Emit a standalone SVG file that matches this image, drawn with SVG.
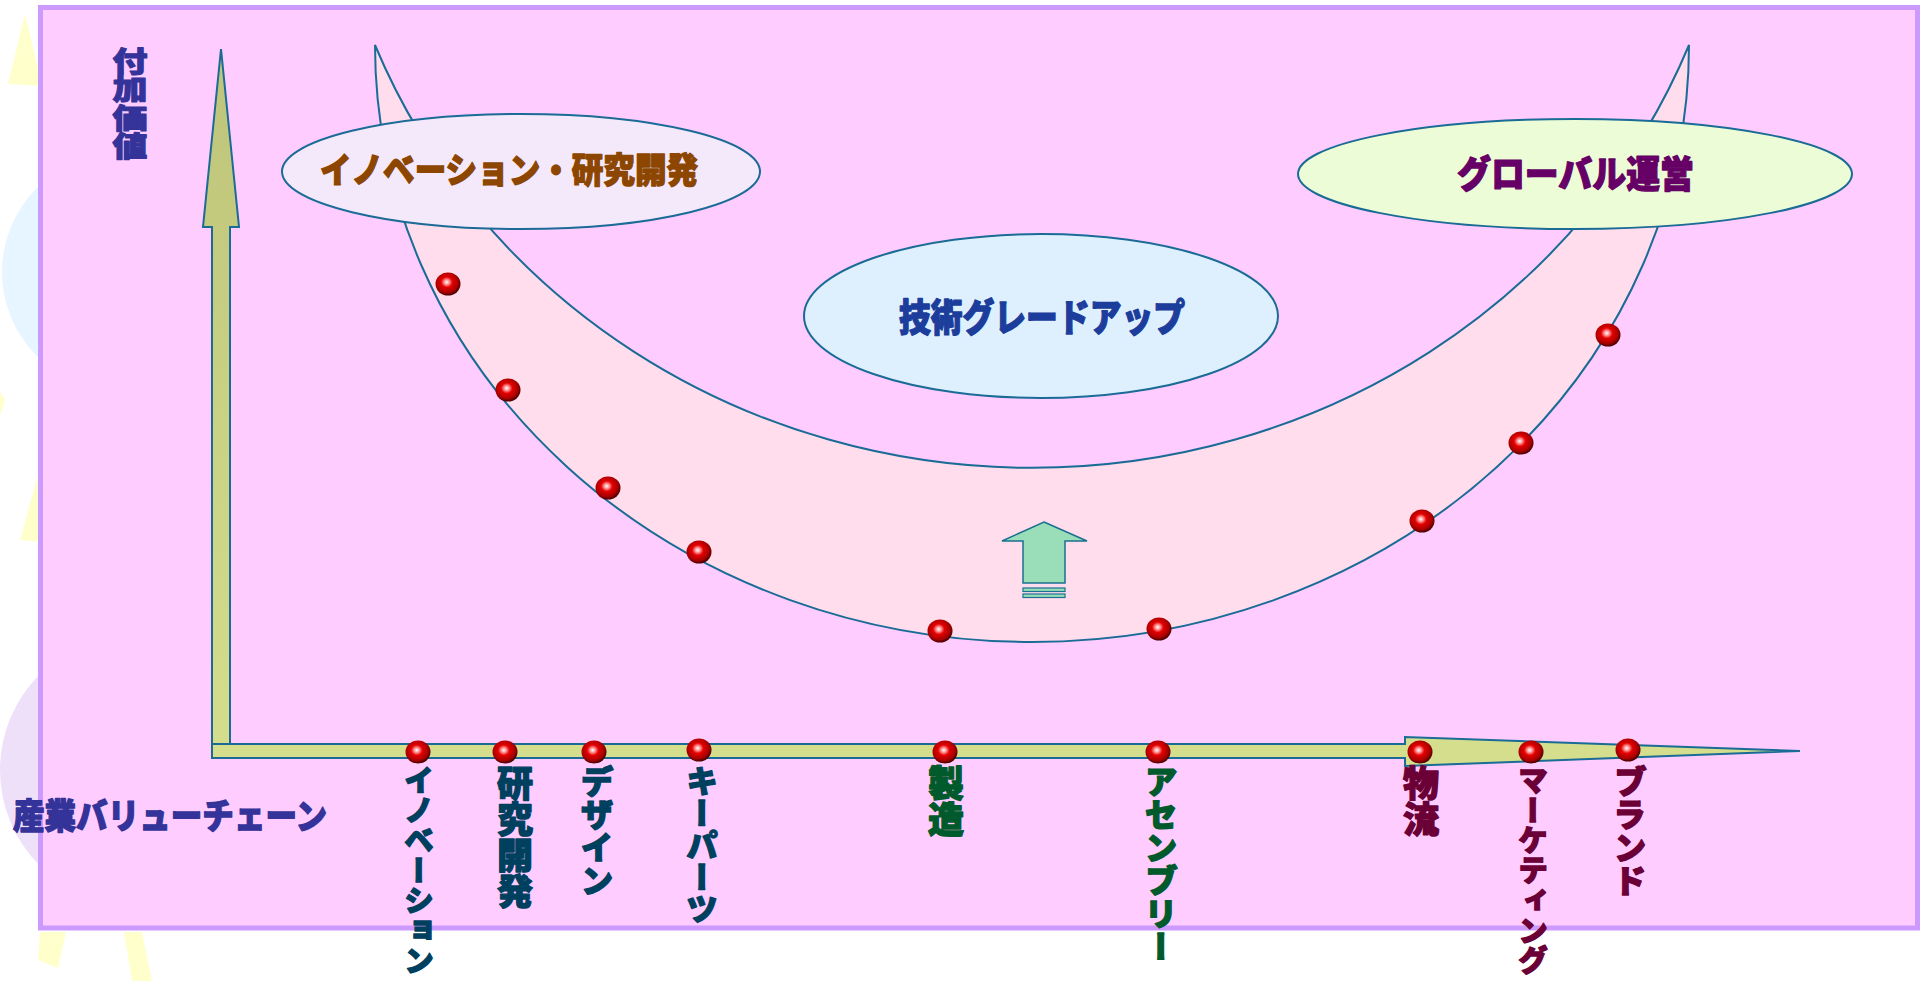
<svg xmlns="http://www.w3.org/2000/svg" width="1924" height="981" viewBox="0 0 1924 981">
<style>
.jp{font-family:"Noto Sans CJK JP","Noto Sans CJK SC",sans-serif;font-weight:900;stroke-width:1.3;stroke-linejoin:round}
.vt{writing-mode:vertical-rl}
.teal{fill:#00405F;stroke:#00405F}
.green{fill:#005A2C;stroke:#005A2C}
.maroon{fill:#6A0036;stroke:#6A0036}
.navy{fill:#333399;stroke:#333399}
.edge{stroke:#1A6B96;stroke-width:2}
</style>
<defs>
<radialGradient id="ball" cx="0.45" cy="0.42" r="0.6">
<stop offset="0" stop-color="#FFFFFF"/>
<stop offset="0.18" stop-color="#FF9090"/>
<stop offset="0.38" stop-color="#E40000"/>
<stop offset="0.75" stop-color="#A80000"/>
<stop offset="1" stop-color="#3A0000"/>
</radialGradient>
<linearGradient id="vshaft" x1="0" y1="0" x2="0" y2="1">
<stop offset="0" stop-color="#BEC47A"/>
<stop offset="1" stop-color="#D4DE8C"/>
</linearGradient>
<symbol id="b" overflow="visible"><ellipse cx="0" cy="0" rx="12.5" ry="11.5" fill="url(#ball)"/></symbol>
</defs>

<!-- background decorations -->
<g id="decor">
<rect width="1924" height="981" fill="#FFFFFF"/>
<circle cx="120" cy="272" r="118" fill="#E6F5FF"/>
<circle cx="140" cy="265" r="80" fill="#EEF8FF"/>
<circle cx="135" cy="770" r="135" fill="#EFE0FA"/>
<circle cx="150" cy="760" r="95" fill="#F5EAFC"/>
<polygon points="8,84 25,14 42,86" fill="#FFFFCC"/>
<polygon points="20,540 38,475 42,542" fill="#FFFFCC"/>
<polygon points="0,392 5,400 0,415" fill="#FFFFCC"/>
<polygon points="38,960 40,932 66,932 58,968" fill="#FFFFCC"/>
<polygon points="124,932 142,932 152,981 132,981" fill="#FFFFCC"/>
</g>

<g id="frame">
<rect x="40.5" y="7.5" width="1877" height="920.5" fill="#FFCCFF" stroke="#CC99FF" stroke-width="5"/>
</g>

<g id="crescent">
<path d="M375,45 A657,597 0 0 0 1689,45 A706,667 0 0 1 375,45 Z" fill="#FFDDEC" class="edge"/>
</g>

<g id="node-innovation">
<ellipse cx="521" cy="171.5" rx="239" ry="57.5" fill="#F4E8FB" class="edge"/>
<text class="jp" x="320" y="167" font-size="35" fill="#8C4600" stroke="#8C4600" dominant-baseline="central" textLength="378" lengthAdjust="spacingAndGlyphs">イノベーション・研究開発</text>
</g>

<g id="node-global">
<ellipse cx="1575" cy="174" rx="277" ry="55" fill="#ECFCD6" class="edge"/>
<text class="jp" x="1457" y="171.5" font-size="37" fill="#660066" stroke="#660066" dominant-baseline="central" textLength="237" lengthAdjust="spacingAndGlyphs">グローバル運営</text>
</g>

<g id="node-tech">
<ellipse cx="1041" cy="316" rx="237" ry="82" fill="#DEF0FE" class="edge"/>
<text class="jp" x="899" y="314.5" font-size="38" fill="#1C3D9B" stroke="#1C3D9B" dominant-baseline="central" textLength="286" lengthAdjust="spacingAndGlyphs">技術グレードアップ</text>
</g>

<g id="up-arrow">
<polygon points="1044,522 1087,541 1065,541 1065,583 1023,583 1023,541 1002,541" fill="#99DDB9" stroke="#1A7090" stroke-width="1.5"/>
<rect x="1023" y="588" width="42" height="3.5" fill="#99DDB9" stroke="#1A7090" stroke-width="1.2"/>
<rect x="1023" y="594" width="42" height="3.5" fill="#99DDB9" stroke="#1A7090" stroke-width="1.2"/>
</g>

<g id="curve-balls">
<use href="#b" x="448" y="284"/>
<use href="#b" x="508" y="390"/>
<use href="#b" x="608" y="488"/>
<use href="#b" x="699" y="552"/>
<use href="#b" x="940" y="631"/>
<use href="#b" x="1159" y="629"/>
<use href="#b" x="1422" y="521"/>
<use href="#b" x="1521" y="443"/>
<use href="#b" x="1608" y="335"/>
</g>

<g id="connectors">
<polygon id="y-axis" points="221,49 239,227 230,227 230,758 212,758 212,227 203,227" fill="url(#vshaft)" class="edge"/>
<polygon id="x-axis" points="212,744 1405,744 1405,737 1800,751 1405,766 1405,758 212,758" fill="#D4DE8C" class="edge"/>
</g>

<g id="axis-titles">
<text class="jp navy vt" font-size="35" transform="translate(130,47) scale(1,0.81)" x="0" y="0">付加価値</text>
<text class="jp navy" x="13" y="813" font-size="35" dominant-baseline="central" textLength="314" lengthAdjust="spacingAndGlyphs">産業バリューチェーン</text>
</g>

<g id="axis-balls">
<use href="#b" x="418" y="752"/>
<use href="#b" x="505" y="752"/>
<use href="#b" x="594" y="752"/>
<use href="#b" x="699" y="750"/>
<use href="#b" x="945" y="752"/>
<use href="#b" x="1158" y="752"/>
<use href="#b" x="1420" y="752"/>
<use href="#b" x="1531" y="752"/>
<use href="#b" x="1628" y="750"/>
</g>

<g id="stage-labels">
<text id="l-innovation" class="jp vt teal" x="419" y="765" font-size="30">イノベーション</text>
<text id="l-rd" class="jp vt teal" x="515" y="765" font-size="36">研究開発</text>
<text id="l-design" class="jp vt teal" x="597" y="765" font-size="33">デザイン</text>
<text id="l-keyparts" class="jp vt teal" x="702" y="765" font-size="32">キーパーツ</text>
<text id="l-mfg" class="jp vt green" x="946" y="765" font-size="36">製造</text>
<text id="l-assembly" class="jp vt green" x="1161" y="765" font-size="33">アセンブリー</text>
<text id="l-logistics" class="jp vt maroon" x="1421" y="765" font-size="36">物流</text>
<text id="l-marketing" class="jp vt maroon" x="1533" y="765" font-size="30">マーケティング</text>
<text id="l-brand" class="jp vt maroon" x="1630" y="765" font-size="33">ブランド</text>
</g>
</svg>
